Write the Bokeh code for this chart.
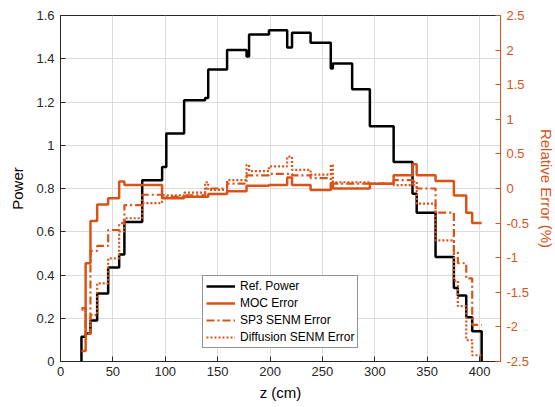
import numpy as np
from bokeh.plotting import figure
from bokeh.models import Range1d, LinearAxis, FixedTicker, NumeralTickFormatter, Legend, LegendItem
from bokeh.embed import file_html
from bokeh.resources import INLINE

# ---- data ----
z_edges = [20, 24, 28.6, 35, 45.5, 56, 61, 78, 97, 101, 118, 138, 141, 159, 177.6, 180,
           199, 216.4, 221, 238.7, 258, 260, 278.4, 295.3, 318, 336, 340, 358, 375.5,
           379.3, 387.3, 393, 402]
ref_power = [0.115, 0.13, 0.19, 0.315, 0.435, 0.495, 0.645, 0.838, 0.90, 1.054, 1.208,
             1.219, 1.35, 1.44, 1.41, 1.512, 1.532, 1.452, 1.52, 1.474, 1.355, 1.378,
             1.259, 1.088, 0.922, 0.776, 0.688, 0.483, 0.34, 0.305, 0.205, 0.14]
moc_err = [-2.35, -1.08, -0.47, -0.23, -0.14, 0.10, 0.05, 0.05, -0.14, -0.14, -0.12,
           -0.12, -0.08, -0.04, 0.04, 0.04, 0.05, 0.16, 0.05, -0.02, 0.08, 0.0,
           0.0, 0.07, 0.19, 0.35, 0.19, 0.11, -0.10, -0.10, -0.35, -0.50]
sp3_err = [-1.73, -2.10, -0.90, -0.83, -0.60, -0.50, -0.24, -0.09, -0.12, -0.12, -0.10,
           0.0, 0.0, 0.07, 0.19, 0.19, 0.21, 0.21, 0.19, 0.15, 0.10, 0.07,
           0.07, 0.07, 0.12, 0.05, 0.0, -0.35, -0.92, -1.08, -1.30, -1.97]
diff_err = [-1.75, -2.10, -1.83, -1.37, -1.01, -0.62, -0.43, -0.21, -0.10, -0.10, -0.06,
            0.09, -0.02, 0.12, 0.34, 0.25, 0.32, 0.46, 0.27, 0.20, 0.34, 0.09,
            0.09, 0.07, 0.05, 0.10, -0.22, -0.75, -1.33, -1.70, -2.19, -2.41]

x_ticks = [0, 50, 100, 150, 200, 250, 300, 350, 400]
power_ticks = [0, 0.2, 0.4, 0.6, 0.8, 1.0, 1.2, 1.4, 1.6]
err_ticks = [-2.5, -2, -1.5, -1, -0.5, 0, 0.5, 1, 1.5, 2, 2.5]

BLACK = "#000000"
ORANGE = "#D95319"
AXC = "#262626"
FONT = "Liberation Sans"

p = figure(frame_width=440, frame_height=346,
           x_range=Range1d(0, 420), y_range=Range1d(0, 1.6),
           output_backend="svg", toolbar_location=None,
           min_border_left=60, min_border_top=15, min_border_right=5, min_border_bottom=5)
p.outline_line_color = AXC
p.outline_line_width = 1
p.background_fill_color = "white"
p.border_fill_color = "white"
p.extra_y_ranges = {"err": Range1d(-2.5, 2.5)}

def style_axis(ax, color):
    ax.axis_line_color = color
    ax.axis_line_width = 1
    ax.major_tick_line_color = color
    ax.major_tick_in = 5
    ax.major_tick_out = 0
    ax.minor_tick_line_color = None
    ax.major_label_text_color = color
    ax.major_label_text_font = FONT
    ax.major_label_text_font_size = "13px"
    ax.axis_label_text_font = FONT
    ax.axis_label_text_font_size = "15px"
    ax.axis_label_text_font_style = "normal"

# bottom axis
xa = p.xaxis[0]
xa.ticker = FixedTicker(ticks=x_ticks)
style_axis(xa, AXC)
xa.axis_label = "z (cm)"
xa.axis_label_text_color = BLACK
xa.major_label_standoff = 5
xa.axis_label_standoff = 5

# left axis
ya = p.yaxis[0]
ya.ticker = FixedTicker(ticks=power_ticks)
ya.formatter = NumeralTickFormatter(format="0.[0]")
style_axis(ya, AXC)
ya.axis_label = "Power"
ya.axis_label_text_color = BLACK
ya.major_label_standoff = 6
ya.axis_label_standoff = 7

# right axis
ra = LinearAxis(y_range_name="err", ticker=FixedTicker(ticks=err_ticks),
                formatter=NumeralTickFormatter(format="0.[0]"))
style_axis(ra, ORANGE)
ra.axis_label = "Relative Error (%)"
ra.axis_label_text_color = ORANGE
ra.major_label_standoff = 6
ra.axis_label_standoff = 6
p.add_layout(ra, "right")

# grid
p.xgrid.ticker = FixedTicker(ticks=x_ticks)
p.ygrid.ticker = FixedTicker(ticks=power_ticks)
for g in (p.xgrid[0], p.ygrid[0]):
    g.grid_line_color = "#dcdcdc"
    g.grid_line_width = 1

# curves
bx = [z_edges[0]] + z_edges
by = [0] + ref_power + [0]
r_ref = p.step(bx, by, mode="after", line_color=BLACK, line_width=2.5)

ex = z_edges
r_moc = p.step(ex, moc_err + [moc_err[-1]], mode="after", y_range_name="err",
               line_color=ORANGE, line_width=2.5)
r_sp3 = p.step(ex, sp3_err + [sp3_err[-1]], mode="after", y_range_name="err",
               line_color=ORANGE, line_width=2.2, line_dash="8 3 2 3")
r_dif = p.step(ex, diff_err + [diff_err[-1]], mode="after", y_range_name="err",
               line_color=ORANGE, line_width=2.2, line_dash="2 2")

legend = Legend(items=[
    LegendItem(label="Ref. Power", renderers=[r_ref]),
    LegendItem(label="MOC Error", renderers=[r_moc]),
    LegendItem(label="SP3 SENM Error", renderers=[r_sp3]),
    LegendItem(label="Diffusion SENM Error", renderers=[r_dif]),
], location=(142, 13))
legend.label_text_font = FONT
legend.label_text_font_size = "12px"
legend.label_text_color = BLACK
legend.glyph_width = 29
legend.glyph_height = 14
legend.label_height = 14
legend.spacing = 3
legend.padding = 3
legend.margin = 0
legend.label_standoff = 5
legend.border_line_color = AXC
legend.border_line_width = 1
legend.background_fill_color = "white"
legend.background_fill_alpha = 1.0
p.add_layout(legend, "center")

open("out.html", "w").write(file_html(p, INLINE))
